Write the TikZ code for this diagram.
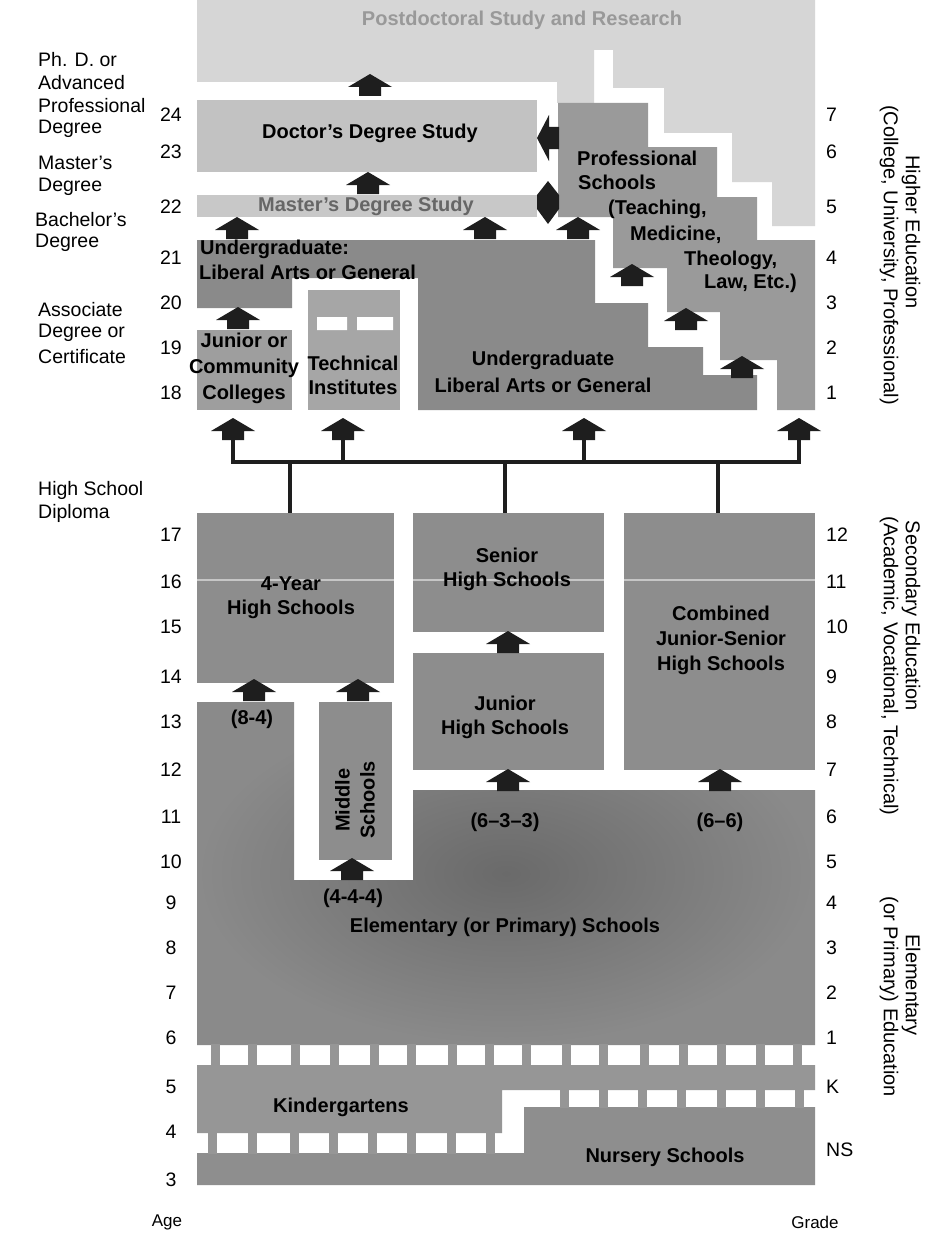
\documentclass[tikz,border=0pt]{standalone}
\usepackage{fontspec}
\setmainfont{Liberation Sans}
\definecolor{pd}{HTML}{D6D6D6}
\definecolor{dr}{HTML}{C2C2C2}
\definecolor{ms}{HTML}{C8C8C8}
\definecolor{pr}{HTML}{9A9A9A}
\definecolor{ug}{HTML}{8A8A8A}
\definecolor{jc}{HTML}{9E9E9E}
\definecolor{ti}{HTML}{A6A6A6}
\definecolor{sec}{HTML}{8D8D8D}
\definecolor{el}{HTML}{8A8A8A}
\definecolor{eld}{HTML}{6A6A6A}
\definecolor{kg}{HTML}{969696}
\definecolor{ns}{HTML}{8E8E8E}
\definecolor{arrowc}{HTML}{1E1E1E}
\tikzset{
  blk/.style={draw=none, inner sep=0pt, outer sep=0pt, anchor=north west},
  lbl/.style={font=\fontsize{20}{24}\selectfont\bfseries, align=center, inner sep=0pt},
  side/.style={font=\fontsize{19.5}{22}\selectfont, anchor=west, inner sep=0pt},
  num/.style={font=\fontsize{19.5}{22}\selectfont, inner sep=0pt},
  gnum/.style={num, anchor=west},
  sect/.style={font=\fontsize{20}{22}\selectfont, rotate=-90, inner sep=0pt},
  conn/.style={line width=4.5pt, draw=arrowc},
  harrow/.pic={\fill[arrowc] (-22,1) -- (0,-12) -- (22,1) -- (11,1) -- (11,10) -- (-11,10) -- (-11,1) -- cycle;}
}
\begin{document}
\begin{tikzpicture}[x=1pt,y=-1pt]
\useasboundingbox (0,0) rectangle (928,1236);
\fill[white] (0,0) rectangle (928,1236);

% ---------- higher education ----------
\fill[pd] (197,0) -- (815,0) -- (815,226) -- (772,226) -- (772,182) -- (732,182) -- (732,133) -- (664,133) -- (664,88) -- (613,88) -- (613,50) -- (594,50) -- (594,103) -- (557,103) -- (557,82) -- (197,82) -- cycle;
\node[blk, fill=dr, minimum width=340, minimum height=72] (doc) at (197,100) {};
\node[blk, fill=ms, minimum width=340, minimum height=22] (mas) at (197,195) {};
\fill[pr] (558,103) -- (648,103) -- (648,147) -- (717,147) -- (717,197) -- (757,197) -- (757,240) -- (815,240) -- (815,410) -- (777,410) -- (777,360) -- (720,360) -- (720,312) -- (667,312) -- (667,268) -- (613,268) -- (613,217) -- (558,217) -- cycle;
\fill[ug] (197,240) -- (595,240) -- (595,303) -- (648,303) -- (648,347) -- (703,347) -- (703,375) -- (757,375) -- (757,410) -- (418,410) -- (418,278) -- (292,278) -- (292,308) -- (197,308) -- cycle;
\node[blk, fill=jc, minimum width=95, minimum height=80] (jcol) at (197,330) {};
\node[blk, fill=ti, minimum width=92, minimum height=120] (tech) at (308,290) {};
\fill[white] (317,317) rectangle (347,330) (357,317) rectangle (393,330);

% arrows higher
\pic at (370,86) {harrow};
\pic at (368,184) {harrow};
\pic at (237,229) {harrow};
\pic at (485,229) {harrow};
\pic at (578,229) {harrow};
\pic at (632,276) {harrow};
\pic at (686,320) {harrow};
\pic at (742,368) {harrow};
\pic at (238,319) {harrow};
\fill[arrowc] (537,138) -- (549,115) -- (549,127) -- (559,127) -- (559,149) -- (549,149) -- (549,161) -- cycle;
\fill[arrowc] (548,181) -- (559,195) -- (559,209) -- (548,224) -- (537,209) -- (537,195) -- cycle;

% texts higher
\node[lbl, text=black!40] (tpd) at (522,20) {Postdoctoral Study and Research};
\node[lbl] (tdoc) at (370,133) {Doctor’s Degree Study};
\node[lbl, text=black!60] (tmas) at (366,206) {Master’s Degree Study};
\node[lbl, anchor=west] (tpr1) at (577,158) {Professional};
\node[lbl, anchor=west] (tpr2) at (578,182) {Schools};
\node[lbl, anchor=west] (tpr3) at (608,209) {(Teaching,};
\node[lbl, anchor=west] (tpr4) at (630,235) {Medicine,};
\node[lbl, anchor=west] (tpr5) at (684,260) {Theology,};
\node[lbl, anchor=west] (tpr6) at (704,283) {Law, Etc.)};
\node[lbl, anchor=west] (tug1) at (200,249) {Undergraduate:};
\node[lbl, anchor=west] (tug2) at (199,272) {Liberal Arts or General};
\node[lbl, font=\fontsize{20}{26}\selectfont\bfseries] (tjc) at (244,368) {Junior or\\Community\\Colleges};
\node[lbl] (tti) at (353,375) {Technical\\Institutes};
\node[lbl, font=\fontsize{20}{27}\selectfont\bfseries] (tug3) at (543,372) {Undergraduate\\Liberal Arts or General};

% ---------- secondary ----------
\node[blk, fill=sec, minimum width=197, minimum height=170] (hs4) at (197,513) {};
\node[blk, fill=sec, minimum width=191, minimum height=119] (shs) at (413,513) {};
\node[blk, fill=sec, minimum width=191, minimum height=117] (jhs) at (413,653) {};
\node[blk, fill=sec, minimum width=191, minimum height=257] (cjs) at (624,513) {};
\draw[white, opacity=0.5, line width=1.5pt] (197,580) -- (815,580);

% connector bar
\coordinate (bar1) at (233,462);
\coordinate (up1) at (233,440);
\coordinate (up2) at (343,440);
\coordinate (up3) at (584,440);
\coordinate (up4) at (799,440);
\coordinate (d1) at (290,462);
\coordinate (d2) at (505,462);
\coordinate (d3) at (718,462);
\draw[conn] (up1) -- (up1 |- bar1) -- (up4 |- bar1) -- (up4);
\draw[conn] (up2) -- (up2 |- bar1);
\draw[conn] (up3) -- (up3 |- bar1);
\draw[conn] (d1) -- (d1 |- hs4.north);
\draw[conn] (d2) -- (d2 |- shs.north);
\draw[conn] (d3) -- (d3 |- cjs.north);
\pic at (233,430) {harrow};
\pic at (343,430) {harrow};
\pic at (584,430) {harrow};
\pic at (799,430) {harrow};

% ---------- elementary ----------
\shade[inner color=eld, outer color=el] (197,702) -- (294,702) -- (294,880) -- (413,880) -- (413,790) -- (815,790) -- (815,1045) -- (197,1045) -- cycle;
\node[blk, fill=sec, minimum width=73, minimum height=158] (mid) at (319,702) {};
\pic at (254,691) {harrow};
\pic at (358,691) {harrow};
\pic at (352,870) {harrow};
\pic at (508,643) {harrow};
\pic at (508,781) {harrow};
\pic at (720,781) {harrow};

\node[lbl] (t4y) at (291,598) {4-Year\\High Schools};
\node[lbl] (tshs) at (507,569) {Senior\\High Schools};
\node[lbl, font=\fontsize{20}{25}\selectfont\bfseries] (tcjs) at (721,640) {Combined\\Junior-Senior\\High Schools};
\node[lbl] (tjhs) at (505,717) {Junior\\High Schools};
\node[lbl] (t84) at (252,719) {(8-4)};
\node[lbl, rotate=90, font=\fontsize{20}{25}\selectfont\bfseries] (tmid) at (355,800) {Middle\\Schools};
\node[lbl] (t633) at (505,822) {(6–3–3)};
\node[lbl] (t66) at (720,822) {(6–6)};
\node[lbl] (t444) at (353,898) {(4-4-4)};
\node[lbl] (tel) at (505,927) {Elementary (or Primary) Schools};

% ---------- kindergarten / nursery ----------
\fill[kg] (197,1065) -- (815,1065) -- (815,1090) -- (502,1090) -- (502,1133) -- (197,1133) -- cycle;
\fill[ns] (524,1107) -- (815,1107) -- (815,1185) -- (197,1185) -- (197,1153) -- (524,1153) -- cycle;
\foreach \t in {215,252,295,334,374,411,452,489,526,566,603,644,683,721,760,797}
  \fill[kg] (\t-4.5,1044) rectangle (\t+4.5,1066);
\foreach \t in {564,603,642,681,721,760,799}
  \fill[kg] (\t-4.5,1089) rectangle (\t+4.5,1108);
\foreach \t in {212,252,294,333,372,411,451,490}
  \fill[kg] (\t-4.5,1132) rectangle (\t+4.5,1154);
\node[lbl] (tkg) at (341,1107) {Kindergartens};
\node[lbl] (tns) at (665,1157) {Nursery Schools};

% ---------- left labels ----------
\node[side] (l1) at (38,60) {Ph. D. or};
\node[side] (l2) at (38,83) {Advanced};
\node[side] (l3) at (38,106) {Professional};
\node[side] (l4) at (38,129) {Degree};
\node[side] (l5) at (38,163) {Master’s};
\node[side] (l6) at (38,187) {Degree};
\node[side] (l7) at (35,220) {Bachelor’s};
\node[side] (l8) at (35,243) {Degree};
\node[side] (l9) at (38,310) {Associate};
\node[side] (l10) at (38,333) {Degree or};
\node[side] (l11) at (38,357) {Certificate};
\node[side] (l12) at (38,490) {High School};
\node[side] (l13) at (38,513) {Diploma};

\foreach \a/\y in {24/115,23/152,22/207,21/258,20/303,19/348,18/393,17/535,16/582,15/627,14/677,13/722,12/770,11/817,10/862,9/903,8/948,7/993,6/1038,5/1087,4/1132,3/1180}
  \node[num] (age\a) at (171,\y) {\a};
\foreach \g/\y [count=\i] in {7/115,6/152,5/207,4/258,3/303,2/348,1/393,12/535,11/582,10/627,9/677,8/722,7/770,6/817,5/862,4/903,3/948,2/993,1/1038,K/1087,NS/1150}
  \node[gnum] (gr\i) at (826,\y) {\g};
\node[side, anchor=center, font=\fontsize{17}{20}\selectfont] (tage) at (167,1222) {Age};
\node[side, anchor=center, font=\fontsize{17}{20}\selectfont] (tgrade) at (815,1222) {Grade};

% ---------- right side labels ----------
\node[sect] (s1) at (911,232) {Higher Education};
\node[sect] (s2) at (889,255) {(College, University, Professional)};
\node[sect] (s3) at (911,616) {Secondary Education};
\node[sect] (s4) at (889,666) {(Academic, Vocational, Technical)};
\node[sect] (s5) at (911,985) {Elementary};
\node[sect] (s6) at (889,997) {(or Primary) Education};
\end{tikzpicture}
\end{document}
